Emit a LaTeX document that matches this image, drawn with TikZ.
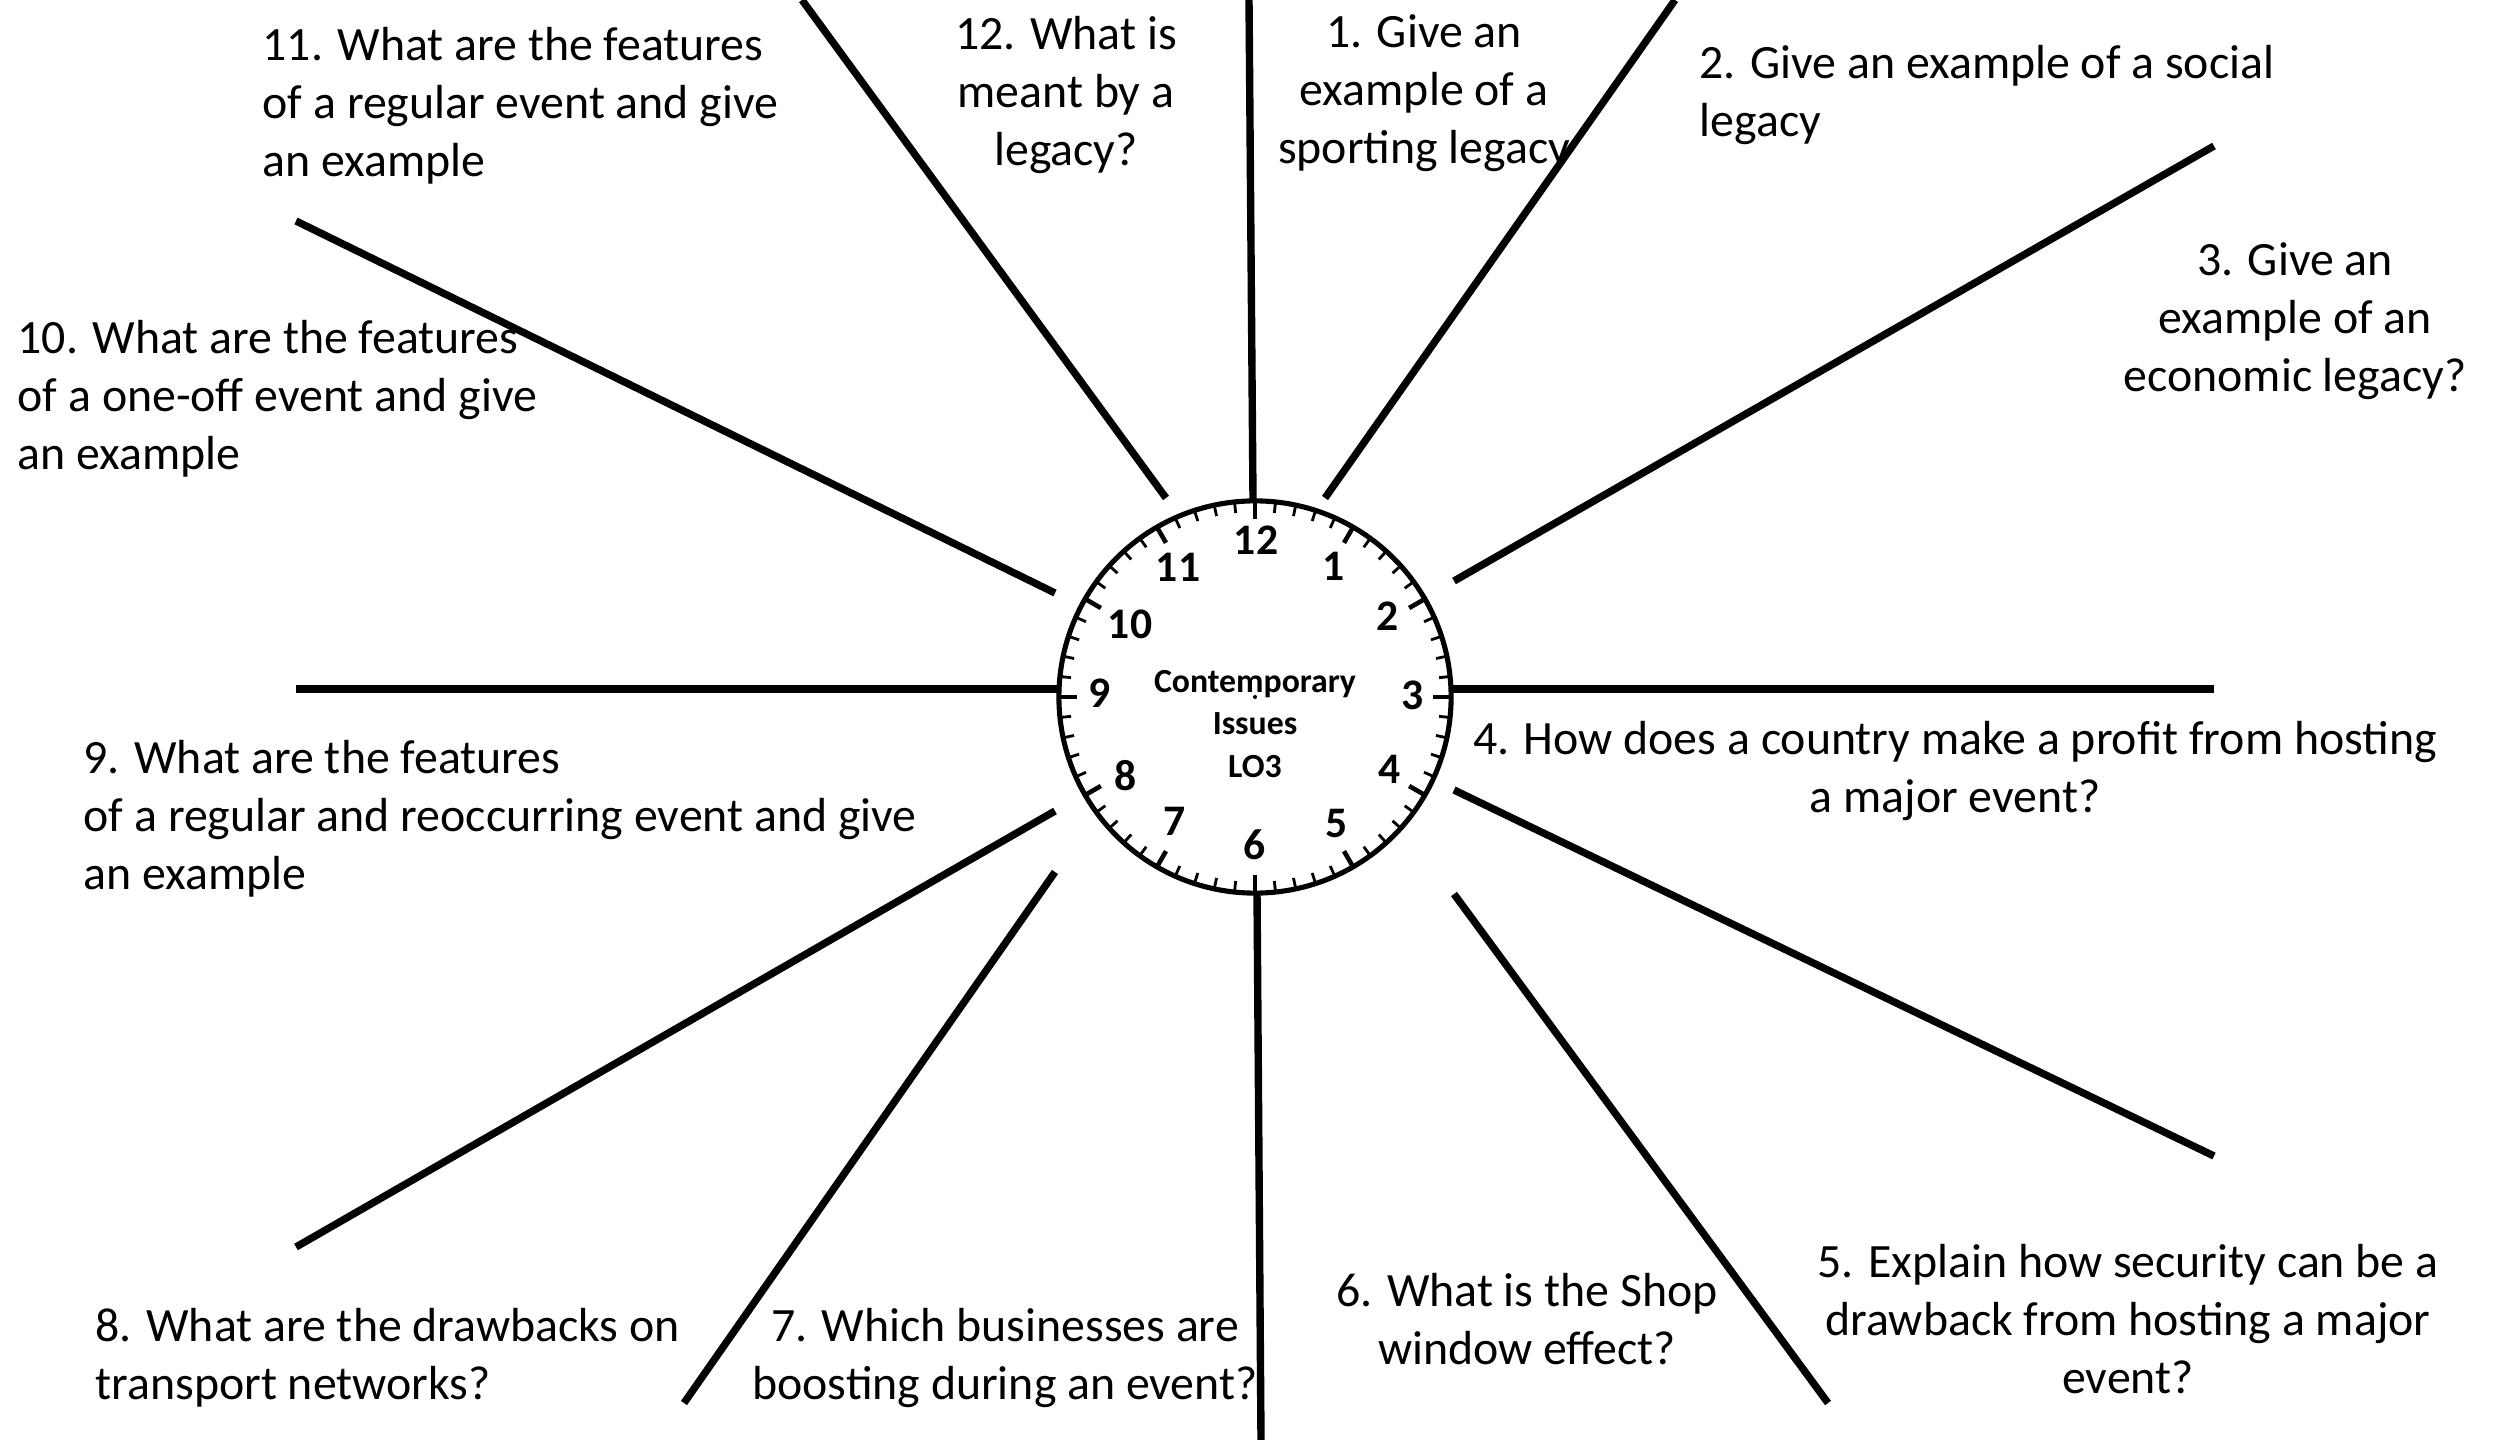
\documentclass[tikz,border=0pt]{standalone}
\usepackage{fontspec}
\setmainfont{Carlito}
\begin{document}
\begin{tikzpicture}[x=0.01cm,y=-0.01cm,
  spoke/.style={line width=2.1pt},
  q/.style={inner sep=0pt, font=\fontsize{13.6}{16.5}\selectfont},
  num/.style={inner sep=0pt, font=\bfseries\fontsize{12.4}{14}\selectfont}]
\useasboundingbox (0,0) rectangle (2494,1440);
\fill[white] (0,0) rectangle (2494,1440);
% spokes
\coordinate (s12a) at (1249,0);    \coordinate (s12b) at (1253,500);
\coordinate (s1a) at (1675,0);     \coordinate (s1b) at (1325,498);
\coordinate (s2a) at (2214,146);   \coordinate (s2b) at (1454,581);
\coordinate (s3a) at (2214,689);   \coordinate (s3b) at (1450,689);
\coordinate (s4a) at (2214,1156);  \coordinate (s4b) at (1454,790);
\coordinate (s5a) at (1828,1403);  \coordinate (s5b) at (1454,894);
\coordinate (s6a) at (1261,1440);  \coordinate (s6b) at (1257,892);
\coordinate (s7a) at (684,1403);   \coordinate (s7b) at (1055,872);
\coordinate (s8a) at (296,1247);   \coordinate (s8b) at (1055,811);
\coordinate (s9a) at (296,689);    \coordinate (s9b) at (1060,689);
\coordinate (s10a) at (296,221);   \coordinate (s10b) at (1055,593);
\coordinate (s11a) at (802,0);     \coordinate (s11b) at (1166,498);
\foreach \s in {1,...,12}{\draw[spoke] (s\s a) -- (s\s b);}
% clock
\node[circle, draw, line width=1.45pt, fill=white, minimum size=3.92cm, inner sep=0pt] (clock) at (1255,697) {};
\foreach \m in {0,...,59}{
  \draw[line width=0.8pt] ({1255+196*sin(6*\m)},{697-196*cos(6*\m)}) -- ({1255+185*sin(6*\m)},{697-185*cos(6*\m)});}
\foreach \h in {1,...,12}{
  \draw[line width=1.3pt] ({1255+196*sin(30*\h)},{697-196*cos(30*\h)}) -- ({1255+178*sin(30*\h)},{697-178*cos(30*\h)});}
\foreach \h/\px/\py in {12/1256/540, 1/1334/566, 2/1388/616, 3/1413/695, 4/1390/769, 5/1337/824,
                        6/1255/845, 7/1175/821, 8/1126/776, 9/1100/693, 10/1130/624, 11/1178/567}{
  \node[num] (n\h) at (\px,\py) {\h};}
\fill (1255,697) circle (0.02cm);
\node[align=center, inner sep=0pt, font=\bfseries\fontsize{9.6}{12}\selectfont] (title) at (1255,724) {Contemporary\\Issues\\LO3};
% questions
\node[q, align=left, anchor=north west] (q11) at (262,27) {11. What are the features\\of a regular event and give\\an example};
\node[q, align=center, anchor=north] (q12) at (1066,16) {12. What is\\meant by a\\legacy?};
\node[q, align=center, anchor=north] (q1) at (1424,14) {1. Give an\\example of a\\sporting legacy};
\node[q, align=left, anchor=north west] (q2) at (1699,45) {2. Give an example of a social\\legacy};
\node[q, align=center, anchor=north] (q3) at (2295,242) {3. Give an\\example of an\\economic legacy?};
\node[q, align=center, anchor=north] (q4) at (1955,721) {4. How does a country make a profit from hosting\\a major event?};
\node[q, align=center, anchor=north] (q5) at (2128,1244) {5. Explain how security can be a\\drawback from hosting a major\\event?};
\node[q, align=center, anchor=north] (q6) at (1527,1273) {6. What is the Shop\\window effect?};
\node[q, align=center, anchor=north] (q7) at (1005,1308) {7. Which businesses are\\boosting during an event?};
\node[q, align=left, anchor=north west] (q8) at (95,1308) {8. What are the drawbacks on\\transport networks?};
\node[q, align=left, anchor=north west] (q9) at (83,740) {9. What are the features\\of a regular and reoccurring event and give\\an example};
\node[q, align=left, anchor=north west] (q10) at (17,320) {10. What are the features\\of a one-off event and give\\an example};
\end{tikzpicture}
\end{document}
